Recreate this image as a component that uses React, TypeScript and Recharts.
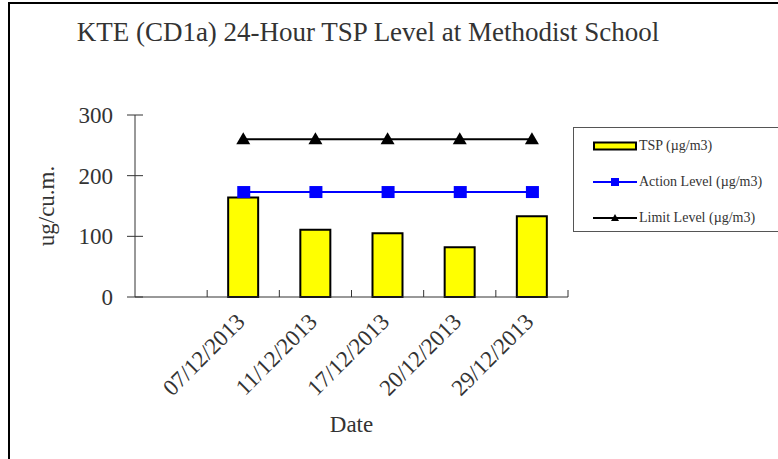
import React from "react";
import {
  ComposedChart,
  Bar,
  Line,
  XAxis,
  YAxis,
  Legend,
} from "recharts";

// first slot is left empty in the original sheet
const dates = ["", "07/12/2013", "11/12/2013", "17/12/2013", "20/12/2013", "29/12/2013"];
const tsp = [null, 164, 111, 105, 82, 133];
const actionLevel = [null, 173, 173, 173, 173, 173];
const limitLevel = [null, 260, 260, 260, 260, 260];
const yTicks = [0, 100, 200, 300];

const data = dates.map((d, i) => ({
  date: d,
  tsp: tsp[i],
  action: actionLevel[i],
  limit: limitLevel[i],
}));

const FONT = "'Liberation Serif', 'DejaVu Serif', serif";
const AXIS = "#333";

const YTick = (props: any) => {
  const { x, y, payload } = props;
  return (
    <g>
      <line x1={x - 8} x2={x + 8} y1={y} y2={y} stroke={AXIS} strokeWidth={1} />
      <text x={x - 22} y={y} dy={8} textAnchor="end" fontSize={23} fill="#333" fontFamily={FONT}>
        {payload.value}
      </text>
    </g>
  );
};

// category label plus the small inward tick at the right edge of each slot
const XTick = (props: any) => {
  const { x, y, payload } = props;
  const edge = x + (payload.offset || 0);
  const tx = x + 3;
  const ty = y + 26;
  return (
    <g>
      <line x1={edge} x2={edge} y1={y - 7} y2={y} stroke={AXIS} strokeWidth={1} />
      {payload.value ? (
        <text
          x={tx}
          y={ty}
          textAnchor="end"
          fontSize={23}
          fill="#333"
          fontFamily={FONT}
          transform={`rotate(-45 ${tx} ${ty})`}
        >
          {payload.value}
        </text>
      ) : null}
    </g>
  );
};

const SquareDot = (props: any) => {
  const { cx, cy } = props;
  if (cx == null || cy == null) return null;
  return <rect x={cx - 6} y={cy - 6} width={13} height={12} fill="#0000ff" />;
};

const TriangleDot = (props: any) => {
  const { cx, cy } = props;
  if (cx == null || cy == null) return null;
  return <polygon points={`${cx},${cy - 7} ${cx + 7},${cy + 5} ${cx - 7},${cy + 5}`} fill="#000" />;
};

const LegendContent = () => {
  const row: React.CSSProperties = { display: "flex", alignItems: "center", height: 36 };
  const label: React.CSSProperties = { fontSize: 14, color: "#333", fontFamily: FONT, marginLeft: 2 };
  return (
    <div style={{ paddingLeft: 19 }}>
      <div style={row}>
        <svg width={44} height={12}>
          <rect x={1} y={2.5} width={42} height={7} fill="#ffff00" stroke="#000" strokeWidth={2} />
        </svg>
        <span style={label}>TSP (µg/m3)</span>
      </div>
      <div style={row}>
        <svg width={44} height={12}>
          <line x1={0} x2={44} y1={6} y2={6} stroke="#0000ff" strokeWidth={2} />
          <rect x={18} y={2} width={8} height={8} fill="#0000ff" />
        </svg>
        <span style={label}>Action Level (µg/m3)</span>
      </div>
      <div style={row}>
        <svg width={44} height={12}>
          <line x1={0} x2={44} y1={6} y2={6} stroke="#000" strokeWidth={2} />
          <polygon points="22,2 26,9 18,9" fill="#000" />
        </svg>
        <span style={label}>Limit Level (µg/m3)</span>
      </div>
    </div>
  );
};

export default function App() {
  return (
    <div
      style={{
        position: "fixed",
        left: 0,
        top: 0,
        width: 778,
        height: 459,
        background: "#fff",
        overflow: "hidden",
      }}
    >
      <div
        style={{
          position: "absolute",
          left: 8,
          top: 2,
          width: 820,
          height: 520,
          border: "2px solid #000",
        }}
      />
      <div
        style={{
          position: "absolute",
          left: 0,
          width: 736,
          top: 17,
          textAlign: "center",
          fontFamily: FONT,
          fontSize: 27,
          color: "#333",
        }}
      >
        KTE (CD1a) 24-Hour TSP Level at Methodist School
      </div>
      <div style={{ position: "absolute", left: 0, top: 0 }}>
        <ComposedChart
          width={778}
          height={459}
          data={data}
          margin={{ top: 115, right: 210, bottom: 17, left: 0 }}
        >
          <XAxis
            dataKey="date"
            height={145}
            interval={0}
            stroke={AXIS}
            tickLine={false}
            tickSize={0}
            tickMargin={0}
            tick={<XTick />}
            label={{
              value: "Date",
              position: "insideBottom",
              offset: 10,
              fontSize: 23,
              fill: "#333",
              fontFamily: FONT,
            }}
          />
          <YAxis
            width={135}
            domain={[0, 300]}
            ticks={yTicks}
            interval={0}
            stroke={AXIS}
            tickLine={false}
            tickSize={0}
            tickMargin={0}
            tick={<YTick />}
            label={{
              value: "ug/cu.m.",
              angle: -90,
              position: "center",
              dx: -22,
              fontSize: 23,
              fill: "#333",
              fontFamily: FONT,
            }}
          />
          <Legend
            layout="horizontal"
            verticalAlign="middle"
            align="center"
            content={<LegendContent />}
            wrapperStyle={{
              left: 573,
              top: 127,
              width: 230,
              height: 105,
              border: "1.5px solid #555",
              boxSizing: "border-box",
              background: "#fff",
            }}
          />
          <Bar
            dataKey="tsp"
            barSize={30}
            fill="#ffff00"
            stroke="#000"
            strokeWidth={2}
            isAnimationActive={false}
          />
          <Line
            dataKey="action"
            stroke="#0000ff"
            strokeWidth={2}
            dot={<SquareDot />}
            activeDot={false}
            isAnimationActive={false}
          />
          <Line
            dataKey="limit"
            stroke="#000"
            strokeWidth={2}
            dot={<TriangleDot />}
            activeDot={false}
            isAnimationActive={false}
          />
        </ComposedChart>
      </div>
    </div>
  );
}
